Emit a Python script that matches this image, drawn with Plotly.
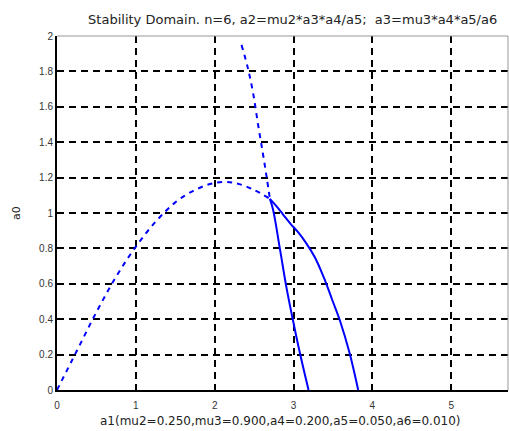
import plotly.graph_objects as go

# Stability boundary branches in the (a1, a0) plane
arc_x = [0.0, 0.25, 0.5, 0.75, 1.0, 1.25, 1.5, 1.75, 2.0, 2.25, 2.5, 2.7]
arc_y = [0.0, 0.22, 0.44, 0.64, 0.81, 0.95, 1.06, 1.13, 1.17, 1.17, 1.13, 1.08]

upper_x = [2.34, 2.42, 2.49, 2.55, 2.61, 2.66, 2.70]
upper_y = [1.95, 1.82, 1.67, 1.50, 1.34, 1.20, 1.08]

inner_x = [2.70, 2.74, 2.83, 2.91, 2.99, 3.08, 3.19]
inner_y = [1.08, 1.02, 0.79, 0.58, 0.40, 0.21, 0.0]

outer_x = [2.70, 2.78, 2.87, 2.96, 3.06, 3.16, 3.27, 3.38, 3.49, 3.59, 3.71, 3.82]
outer_y = [1.08, 1.04, 0.99, 0.94, 0.89, 0.83, 0.75, 0.64, 0.51, 0.39, 0.21, 0.0]

x_ticks = [0, 1, 2, 3, 4, 5]
y_ticks = [0, 0.2, 0.4, 0.6, 0.8, 1, 1.2, 1.4, 1.6, 1.8, 2]
y_tick_text = ["0", "0.2", "0.4", "0.6", "0.8", "1", "1.2", "1.4", "1.6", "1.8", "2"]

title_text = "Stability Domain. n=6, a2=mu2*a3*a4/a5;  a3=mu3*a4*a5/a6"
x_label = "a1(mu2=0.250,mu3=0.900,a4=0.200,a5=0.050,a6=0.010)"
y_label = "a0"

BLUE = "#0000ff"
FONT = "Liberation Sans"
TEXT_FONT = "DejaVu Sans"

fig = go.Figure()
dashed = dict(color=BLUE, width=2, dash="5px,5px")
solid = dict(color=BLUE, width=2)
fig.add_trace(go.Scatter(x=arc_x, y=arc_y, mode="lines", line=dashed, line_shape="spline"))
fig.add_trace(go.Scatter(x=upper_x, y=upper_y, mode="lines", line=dashed, line_shape="spline"))
fig.add_trace(go.Scatter(x=inner_x, y=inner_y, mode="lines", line=solid, line_shape="spline"))
fig.add_trace(go.Scatter(x=outer_x, y=outer_y, mode="lines", line=solid, line_shape="spline"))

axis_common = dict(
    showgrid=True, gridcolor="black", gridwidth=1.5, griddash="7px,5px",
    zeroline=False, showline=True, linecolor="black", linewidth=2,
    ticks="inside", ticklen=5, tickcolor="black", tickwidth=1.5,
    tickfont=dict(family=FONT, size=10, color="#333333"),
)

fig.update_layout(
    width=509, height=431,
    margin=dict(l=57, r=1, t=36, b=41),
    paper_bgcolor="white", plot_bgcolor="white",
    showlegend=False,
    title=dict(text=title_text, x=0.575, xanchor="center", y=0.955, yanchor="middle",
               font=dict(family=TEXT_FONT, size=13, color="#222222")),
    xaxis=dict(range=[0, 5.72], tickvals=x_ticks, ticklabelstandoff=5, **axis_common),
    yaxis=dict(range=[0, 2], tickvals=y_ticks, ticktext=y_tick_text,
               title=dict(text=y_label, standoff=16,
                          font=dict(family=TEXT_FONT, size=11, color="#222222")),
               **axis_common),
    annotations=[
        dict(text=x_label, xref="paper", yref="paper", x=0.495, y=-0.088,
             xanchor="center", yanchor="middle", showarrow=False,
             font=dict(family=TEXT_FONT, size=12, color="#222222")),
    ],
    shapes=[
        dict(type="line", xref="paper", yref="paper", x0=0, x1=1, y0=1, y1=1,
             line=dict(color="#999999", width=1)),
        dict(type="line", xref="paper", yref="paper", x0=1, x1=1, y0=0, y1=1,
             line=dict(color="#999999", width=1)),
    ],
)

fig.write_html("out.html")
